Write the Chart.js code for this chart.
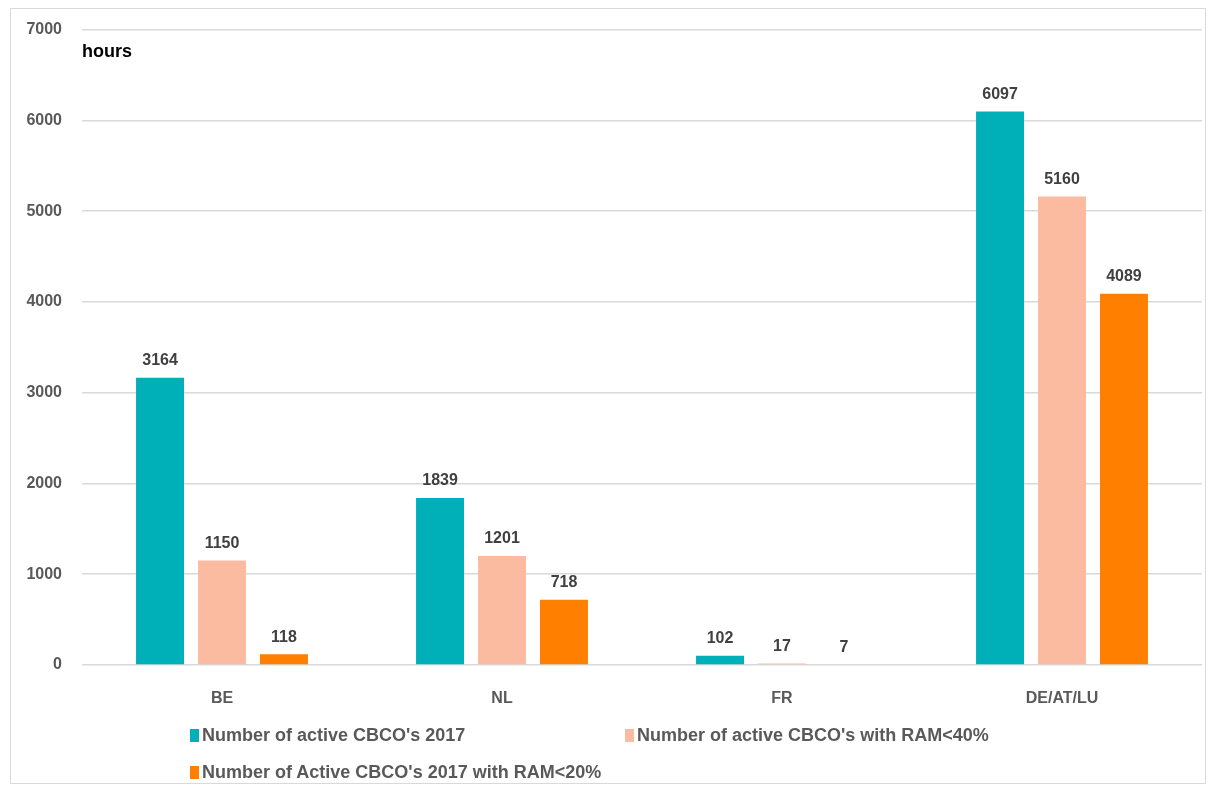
<!DOCTYPE html>
<html>
<head>
<meta charset="utf-8">
<script src="https://cdn.jsdelivr.net/npm/chart.js@4/dist/chart.umd.min.js"></script>
<style>
  body { margin: 0; background: #fff; font-family: "Liberation Sans", Arial, sans-serif; }
  #wrap { position: relative; width: 1215px; height: 787px; }
  #frame { position: absolute; left: 10px; top: 8px; width: 1196px; height: 776px; border: 1px solid #d9d9d9; box-sizing: border-box; pointer-events: none; }
  #unit { position: absolute; left: 82px; top: 41px; font-size: 18px; font-weight: bold; color: #000; }
  .leg { position: absolute; font-size: 18px; line-height: 20px; font-weight: bold; color: #595959; white-space: nowrap; }
  .leg span { display: inline-block; width: 9px; height: 13px; margin-right: 3px; vertical-align: -1px; }
</style>
</head>
<body>
<div id="wrap">
  <canvas id="chart" width="1215" height="787"></canvas>
  <div id="frame"></div>
  <div id="unit">hours</div>
  <div id="legend"></div>
</div>
<script>
const categories = ["BE", "NL", "FR", "DE/AT/LU"];
const activeCbco = [3164, 1839, 102, 6097];
const ram40 = [1150, 1201, 17, 5160];
const ram20 = [118, 718, 7, 4089];
const seriesNames = [
  "Number of active CBCO's 2017",
  "Number of active CBCO's with RAM<40%",
  "Number of Active CBCO's 2017 with RAM<20%",
];
const colors = ["#00b0b9", "#fbbba0", "#ff8000"];

// value labels above bars
const barLabels = {
  id: "barLabels",
  afterDatasetsDraw(chart) {
    const ctx = chart.ctx;
    ctx.save();
    ctx.font = "bold 16px 'Liberation Sans', Arial, sans-serif";
    ctx.fillStyle = "#404040";
    ctx.textAlign = "center";
    ctx.textBaseline = "bottom";
    chart.data.datasets.forEach((ds, i) => {
      chart.getDatasetMeta(i).data.forEach((bar, j) => {
        ctx.fillText(ds.data[j], bar.x, bar.y - 9);
      });
    });
    ctx.restore();
  },
};

const data = {
  labels: categories,
  datasets: [activeCbco, ram40, ram20].map((vals, i) => ({
    label: seriesNames[i],
    data: vals,
    backgroundColor: colors[i],
    categoryPercentage: 0.664,
    barPercentage: 0.774,
  })),
};

new Chart(document.getElementById("chart"), {
  type: "bar",
  data: data,
  options: {
    responsive: false,
    animation: false,
    layout: { padding: { left: 0, right: 13, top: 29, bottom: 0 } },
    plugins: {
      legend: { display: false },
      tooltip: { enabled: false },
    },
    scales: {
      x: {
        grid: { display: false },
        border: { display: false },
        ticks: {
          color: "#595959",
          padding: 16,
          font: { family: "'Liberation Sans', Arial, sans-serif", size: 16, weight: "bold" },
        },
        afterFit: (scale) => { scale.height = 122; },
      },
      y: {
        min: 0,
        max: 7000,
        grid: { color: "#d9d9d9", lineWidth: 1.5, drawTicks: false },
        border: { display: false },
        ticks: {
          stepSize: 1000,
          color: "#595959",
          padding: 20,
          callback: (v) => String(v),
          font: { family: "'Liberation Sans', Arial, sans-serif", size: 16, weight: "bold" },
        },
        afterFit: (scale) => { scale.width = 82; },
      },
    },
  },
  plugins: [barLabels],
});

// legend laid out like the original (two columns)
const legendPos = [[190, 725], [625, 725], [190, 762]];
const legend = document.getElementById("legend");
seriesNames.forEach((name, i) => {
  const d = document.createElement("div");
  d.className = "leg";
  d.style.left = legendPos[i][0] + "px";
  d.style.top = legendPos[i][1] + "px";
  d.innerHTML = '<span style="background:' + colors[i] + '"></span>';
  d.appendChild(document.createTextNode(name));
  legend.appendChild(d);
});
</script>
</body>
</html>
